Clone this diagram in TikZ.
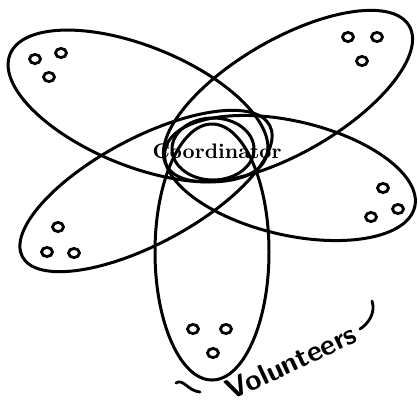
\documentclass[tikz,border=0pt]{standalone}
\begin{document}
\begin{tikzpicture}[x=0.5pt,y=-0.5pt,
  petal/.style={line width=1.5pt},
  member/.style={line width=1.4pt},
  stroke/.style={line width=1.4pt, line cap=round}]
\useasboundingbox (0,0) rectangle (418,404);
% petals
\draw[petal, rotate around={-22:(138,106)}] (138,106) ellipse [x radius=138, y radius=60];
\draw[petal, rotate around={30:(288,96)}] (288,96) ellipse [x radius=140, y radius=57];
\draw[petal, rotate around={28:(146,191)}] (146,191) ellipse [x radius=140, y radius=53];
\draw[petal, rotate around={-13:(290,178)}] (290,178) ellipse [x radius=128, y radius=57];
\draw[petal] (212,252) ellipse [x radius=57, y radius=128];
% coordinator
\draw[petal] (213,149) ellipse [x radius=41, y radius=31];
\node[font=\bfseries\fontsize{10.5}{13}\selectfont, inner sep=0pt] (coord) at (217,151) {Coordinator};
% volunteers
\foreach \p in {(35,59),(61,53),(49,77),
                (348,37),(377,37),(362,61),
                (58,227),(47,252),(74,253),
                (383,188),(398,209),(371,217),
                (193,329),(226,329),(213,353)}
  \draw[member] \p ellipse [x radius=5.5, y radius=4.6];
\node[font=\sffamily\bfseries\fontsize{14.5}{17}\selectfont, rotate=25, inner sep=0pt] (vol) at (291,362) {Volunteers};
\coordinate (la) at (176,383);
\coordinate (lb) at (200,392);
\coordinate (ra) at (360,329);
\coordinate (rb) at (372,301);
\draw[stroke] (la) .. controls (183,378) and (188,391) .. (lb);
\draw[stroke] (ra) .. controls (368,324) and (376,313) .. (rb);
\end{tikzpicture}
\end{document}
